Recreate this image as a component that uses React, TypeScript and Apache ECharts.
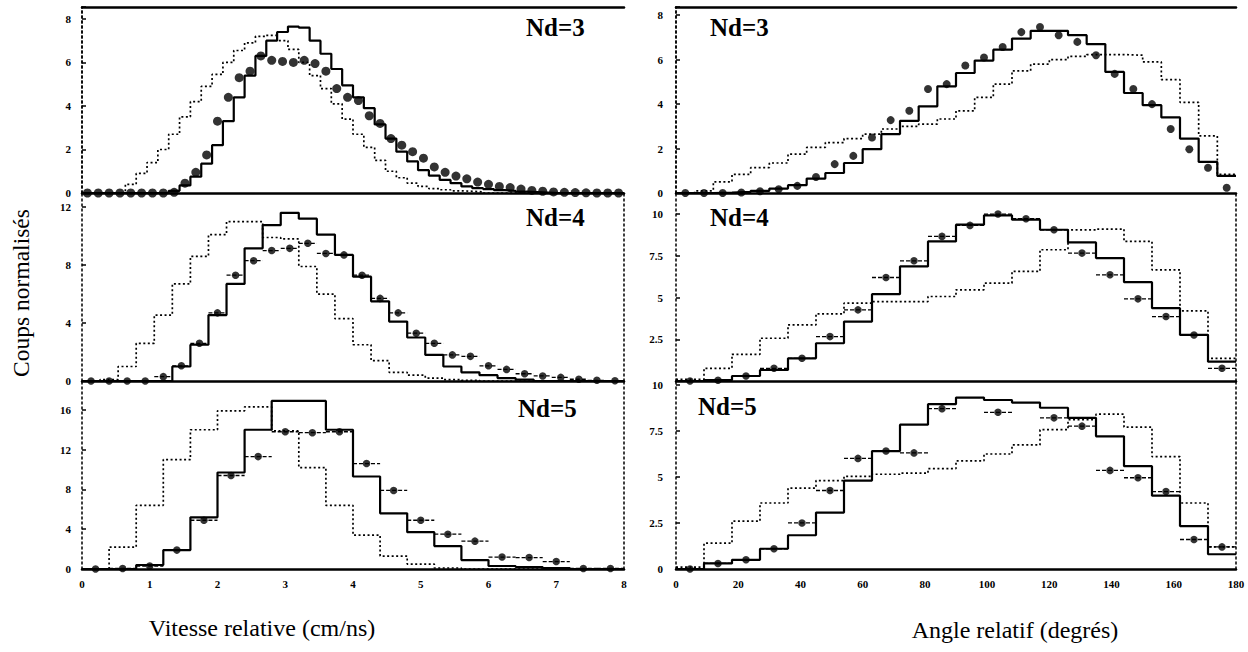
import React, { useEffect, useRef } from 'react';
import * as echarts from 'echarts';

// ---------- DATA ----------
// Left column: relative velocity (cm/ns), bins of fixed width
const velBinNd3 = 0.16;
const velBinNd4 = 8 / 30;
const velBinNd5 = 0.4;

const nd3VelDotted = [0, 0, 0, 0, 0.4, 0.9, 1.4, 2.0, 2.7, 3.5, 4.2, 4.9, 5.45, 6.0, 6.55, 6.9, 7.2, 7.25, 7.0, 6.6, 6.0, 5.4, 4.8, 4.1, 3.4, 2.7, 2.1, 1.5, 1.0, 0.7, 0.45, 0.3, 0.2, 0.15, 0.1, 0.08, 0.05, 0, 0, 0, 0, 0, 0, 0, 0, 0, 0, 0, 0, 0];
const nd3VelSolid = [0, 0, 0, 0, 0, 0, 0, 0, 0.1, 0.35, 0.75, 1.35, 2.2, 3.3, 4.4, 5.4, 6.3, 7.0, 7.4, 7.65, 7.6, 7.0, 6.4, 5.7, 4.95, 4.4, 3.9, 3.15, 2.5, 1.9, 1.45, 1.05, 0.8, 0.6, 0.45, 0.3, 0.22, 0.18, 0.13, 0.1, 0.06, 0.04, 0.02, 0, 0, 0, 0, 0, 0, 0];
const nd3VelPoints = [0, 0, 0, 0, 0, 0, 0, 0, 0.03, 0.45, 0.95, 1.75, 3.3, 4.4, 5.3, 5.6, 6.3, 6.1, 6.05, 6.0, 6.1, 5.95, 5.6, 4.8, 4.4, 4.25, 3.55, 3.2, 2.5, 2.2, 1.9, 1.6, 1.2, 0.95, 0.78, 0.65, 0.5, 0.4, 0.3, 0.25, 0.18, 0.12, 0.08, 0.05, 0.03, 0.02, 0.01, 0, 0, 0];

const nd4VelDotted = [0, 0.1, 1.0, 2.6, 4.55, 6.7, 8.6, 10.1, 11.0, 11.0, 9.9, 9.8, 7.9, 6.0, 4.3, 2.5, 1.4, 0.6, 0.4, 0.2, 0.1, 0.05, 0, 0, 0, 0, 0, 0, 0, 0];
const nd4VelSolid = [0, 0, 0, 0, 0, 1.0, 2.5, 4.55, 6.7, 9.15, 10.75, 11.6, 11.2, 10.1, 8.7, 7.2, 5.5, 4.1, 3.0, 1.8, 1.0, 0.6, 0.4, 0.2, 0.1, 0, 0, 0, 0, 0];
const nd4VelPoints = [0, 0, 0, 0, 0.3, 1.05, 2.6, 4.7, 7.3, 8.3, 9.0, 9.15, 9.5, 8.8, 8.7, 7.3, 5.7, 4.7, 3.3, 2.6, 1.8, 1.7, 1.05, 0.8, 0.5, 0.35, 0.25, 0.12, 0.05, 0.02];

const nd5VelDotted = [0, 2.2, 6.4, 11.0, 14.0, 15.9, 16.3, 13.9, 10.2, 6.4, 3.4, 1.3, 0.5, 0.1, 0, 0, 0, 0, 0, 0];
const nd5VelSolid = [0, 0, 0.4, 1.9, 5.2, 9.7, 14.0, 16.9, 16.9, 14.0, 9.3, 5.6, 3.7, 2.3, 0.9, 0.3, 0.2, 0.1, 0, 0];
const nd5VelPoints = [0, 0.05, 0.3, 1.9, 4.9, 9.4, 11.3, 13.8, 13.7, 13.8, 10.6, 7.9, 4.9, 3.5, 2.8, 1.2, 1.15, 0.75, 0.05, 0.05];

// Right column: relative angle (degrees)
const angBinNd3 = 6;
const angBinNd4 = 9;
const angBinNd5 = 9;

const nd3AngDotted = [0, 0.1, 0.5, 0.84, 1.14, 1.35, 1.75, 2.05, 2.27, 2.45, 2.65, 2.88, 3.0, 3.1, 3.33, 3.7, 4.3, 4.9, 5.5, 5.8, 6.0, 6.15, 6.23, 6.23, 6.2, 5.9, 5.1, 4.08, 2.57, 0.84];
const nd3AngSolid = [0, 0, 0.02, 0.05, 0.1, 0.2, 0.35, 0.65, 0.9, 1.35, 1.97, 2.65, 3.25, 3.9, 4.8, 5.4, 5.96, 6.45, 6.95, 7.3, 7.3, 7.1, 6.7, 5.45, 4.5, 3.95, 3.4, 2.45, 1.4, 0.77];
const nd3AngPoints = [0, 0, 0, 0.02, 0.08, 0.17, 0.32, 0.72, 1.3, 1.67, 2.5, 3.28, 3.7, 4.68, 4.9, 5.74, 6.1, 6.57, 7.24, 7.47, 7.1, 6.8, 6.2, 5.36, 4.68, 4.0, 2.88, 1.97, 1.14, 0.24];

const nd4AngDotted = [0.1, 0.76, 1.6, 2.56, 3.36, 4.02, 4.66, 4.76, 4.76, 5.06, 5.46, 5.86, 6.56, 7.86, 9.05, 9.1, 8.36, 6.66, 4.2, 1.36];
const nd4AngSolid = [0, 0.05, 0.3, 0.66, 1.36, 2.26, 3.56, 5.2, 6.86, 8.36, 9.36, 9.92, 9.66, 9.06, 8.3, 7.36, 5.92, 4.36, 2.76, 1.16];
const nd4AngPoints = [0, 0.05, 0.3, 0.76, 1.36, 2.66, 4.26, 6.2, 7.2, 8.66, 9.32, 10.0, 9.72, 9.06, 7.66, 6.36, 4.92, 3.86, 2.76, 0.76];

const nd5AngDotted = [0.1, 1.4, 2.6, 3.58, 4.39, 4.8, 5.03, 5.14, 5.2, 5.45, 5.87, 6.24, 6.73, 7.56, 8.1, 8.4, 7.7, 6.1, 3.58, 1.2];
const nd5AngSolid = [0, 0.3, 0.5, 1.1, 1.83, 3.06, 4.8, 6.4, 7.83, 8.94, 9.3, 9.17, 9.03, 8.75, 8.2, 7.2, 5.58, 3.98, 2.33, 0.8];
const nd5AngPoints: (number | null)[] = [0, 0.3, 0.5, 1.1, 2.5, 4.26, 6.0, 6.4, 6.3, 8.7, null, 8.5, null, 8.2, 7.75, 5.35, 4.95, 4.2, 1.6, 1.2];

const panelLabels = ['Nd=3', 'Nd=4', 'Nd=5', 'Nd=3', 'Nd=4', 'Nd=5'];
const yTitle = 'Coups normalisés';
const xTitleLeft = 'Vitesse relative (cm/ns)';
const xTitleRight = 'Angle relatif (degrés)';

// ---------- LAYOUT ----------
const leftX = 82, leftW = 542;
const rightX = 676, rightW = 560;
const rowTop = [7, 193, 381];
const rowH = [186, 188, 188];

const FONT = 'Liberation Serif';

type Panel = {
  bin: number; dotted: number[]; solid: number[]; pts: (number | null)[];
  xMax: number; xInt: number; yMax: number; yInt: number; hideZero?: boolean;
  ptSize: number; bars: boolean; col: number; row: number;
};

const panels: Panel[] = [
  { bin: velBinNd3, dotted: nd3VelDotted, solid: nd3VelSolid, pts: nd3VelPoints, xMax: 8, xInt: 1, yMax: 8.55, yInt: 2, ptSize: 9, bars: false, col: 0, row: 0 },
  { bin: velBinNd4, dotted: nd4VelDotted, solid: nd4VelSolid, pts: nd4VelPoints, xMax: 8, xInt: 1, yMax: 12.97, yInt: 4, ptSize: 7.5, bars: true, col: 0, row: 1 },
  { bin: velBinNd5, dotted: nd5VelDotted, solid: nd5VelSolid, pts: nd5VelPoints, xMax: 8, xInt: 1, yMax: 18.9, yInt: 4, ptSize: 7.5, bars: true, col: 0, row: 2 },
  { bin: angBinNd3, dotted: nd3AngDotted, solid: nd3AngSolid, pts: nd3AngPoints, xMax: 180, xInt: 20, yMax: 8.37, yInt: 2, ptSize: 8, bars: false, col: 1, row: 0 },
  { bin: angBinNd4, dotted: nd4AngDotted, solid: nd4AngSolid, pts: nd4AngPoints, xMax: 180, xInt: 20, yMax: 11.26, yInt: 2.5, hideZero: true, ptSize: 7.5, bars: true, col: 1, row: 1 },
  { bin: angBinNd5, dotted: nd5AngDotted, solid: nd5AngSolid, pts: nd5AngPoints, xMax: 180, xInt: 20, yMax: 10.2, yInt: 2.5, ptSize: 7.5, bars: true, col: 1, row: 2 },
];

function stepData(vals: number[], w: number) {
  const d: number[][] = vals.map((v, k) => [k * w, v]);
  d.push([vals.length * w, vals[vals.length - 1]]);
  return d;
}

function buildOption() {
  const grid: any[] = [];
  const xAxis: any[] = [];
  const yAxis: any[] = [];
  const series: any[] = [];

  panels.forEach((p, i) => {
    grid.push({ left: p.col === 0 ? leftX : rightX, top: rowTop[p.row], width: p.col === 0 ? leftW : rightW, height: rowH[p.row] });
    xAxis.push({
      type: 'value', gridIndex: i, min: 0, max: p.xMax, interval: p.xInt,
      axisLine: { show: true, onZero: false, lineStyle: { color: '#000', width: 2.5 } },
      axisTick: { show: false }, splitLine: { show: false },
      axisLabel: { show: p.row === 2, color: '#000', fontFamily: FONT, fontWeight: 'bold', fontSize: 11, margin: 9 },
    });
    const yInt = p.yInt;
    yAxis.push({
      type: 'value', gridIndex: i, min: 0, max: p.yMax, interval: yInt,
      axisLine: { show: true, lineStyle: { color: '#000', width: 1.5, type: [2, 3] } },
      axisTick: { show: true, inside: true, length: 4, lineStyle: { color: '#000', width: 1.5 } },
      splitLine: { show: false },
      axisLabel: {
        color: '#000', fontFamily: FONT, fontWeight: 'bold', fontSize: 11, margin: p.col === 0 ? 11 : 13,
        formatter: (v: number) => {
          const r = v / yInt;
          if (Math.abs(r - Math.round(r)) > 1e-6) return '';
          if (p.hideZero && v === 0) return '';
          return String(v);
        },
      },
    });
  });
  // right borders and top borders
  panels.forEach((p, i) => {
    yAxis.push({
      type: 'value', gridIndex: i, min: 0, max: p.yMax, position: 'right',
      axisLine: { show: true, lineStyle: { color: '#000', width: 1.5, type: [2, 3] } },
      axisTick: { show: false }, axisLabel: { show: false }, splitLine: { show: false },
    });
  });
  [0, 3].forEach((gi) => {
    xAxis.push({
      type: 'value', gridIndex: gi, min: 0, max: panels[gi].xMax, position: 'top',
      axisLine: { show: true, onZero: false, lineStyle: { color: '#000', width: 2.5 } },
      axisTick: { show: false }, axisLabel: { show: false }, splitLine: { show: false },
    });
  });

  panels.forEach((p, i) => {
    series.push({
      type: 'line', xAxisIndex: i, yAxisIndex: i, step: 'end', showSymbol: false, silent: true,
      data: stepData(p.dotted, p.bin),
      lineStyle: { color: '#000', width: 1.7, type: [2, 2.5] }, z: 2,
    });
    series.push({
      type: 'line', xAxisIndex: i, yAxisIndex: i, step: 'end', showSymbol: false, silent: true,
      data: stepData(p.solid, p.bin),
      lineStyle: { color: '#000', width: 2.2 }, z: 3,
    });
    const pts = p.pts
      .map((v, k) => (v === null ? null : [(k + 0.5) * p.bin, v, p.bin / 2]))
      .filter((d) => d !== null) as number[][];
    if (p.bars) {
      series.push({
        type: 'custom', xAxisIndex: i, yAxisIndex: i, silent: true, z: 4,
        data: pts,
        encode: { x: 0, y: 1 },
        renderItem: (params: any, api: any) => {
          const x = api.value(0), y = api.value(1), hw = api.value(2);
          const a = api.coord([x - hw, y]);
          const b = api.coord([x + hw, y]);
          return {
            type: 'line',
            shape: { x1: a[0], y1: a[1], x2: b[0], y2: b[1] },
            style: { stroke: '#000', lineWidth: 1.3, lineDash: [4, 2] },
          };
        },
      });
    }
    series.push({
      type: 'scatter', xAxisIndex: i, yAxisIndex: i, silent: true, z: 5,
      data: pts.map((d) => [d[0], d[1]]),
      symbol: 'circle', symbolSize: p.ptSize,
      itemStyle: { color: '#000' },
    });
  });

  const nameStyle = { fill: '#000', fontFamily: FONT, fontWeight: 'bold', fontSize: 25 };
  const labelPos = [
    [526, 27], [526, 217], [518, 408],
    [710, 27], [710, 217], [698, 406],
  ];
  const graphic: any[] = panelLabels.map((t, i) => ({
    type: 'text', x: labelPos[i][0], y: labelPos[i][1], z: 10,
    style: { ...nameStyle, text: t, textAlign: 'left', textVerticalAlign: 'middle' },
  }));
  graphic.push({
    type: 'text', x: 21, y: 293, rotation: Math.PI / 2, z: 10,
    style: { text: yTitle, fill: '#000', fontFamily: FONT, fontSize: 23.5, textAlign: 'center', textVerticalAlign: 'middle' },
  });
  graphic.push({
    type: 'text', x: 262, y: 628, z: 10,
    style: { text: xTitleLeft, fill: '#000', fontFamily: FONT, fontSize: 24, textAlign: 'center', textVerticalAlign: 'middle' },
  });
  graphic.push({
    type: 'text', x: 1015, y: 630, z: 10,
    style: { text: xTitleRight, fill: '#000', fontFamily: FONT, fontSize: 24, textAlign: 'center', textVerticalAlign: 'middle' },
  });

  return { animation: false, backgroundColor: '#fff', grid, xAxis, yAxis, series, graphic };
}

export default function App() {
  const ref = useRef<HTMLDivElement>(null);
  useEffect(() => {
    if (!ref.current) return;
    const chart = echarts.init(ref.current, null, { renderer: 'svg' });
    chart.setOption(buildOption() as any);
    return () => chart.dispose();
  }, []);
  return <div ref={ref} style={{ position: 'absolute', left: 0, top: 0, width: 1248, height: 652 }} />;
}
